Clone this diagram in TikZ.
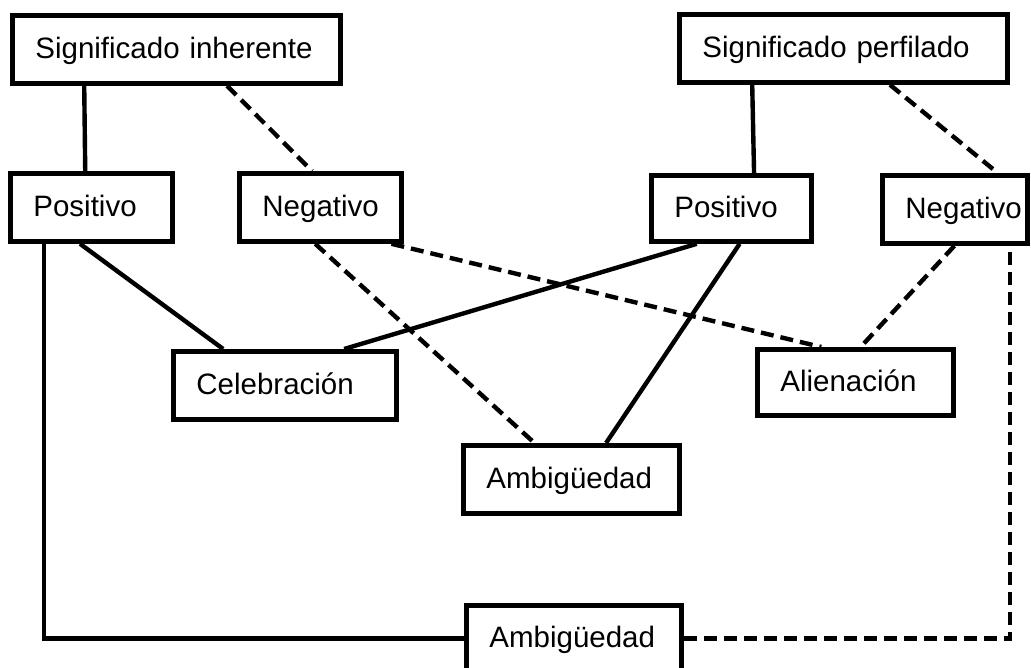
\documentclass[tikz,border=0pt]{standalone}
\usepackage{fontspec}
\setmainfont{Liberation Sans}
\usetikzlibrary{calc,shadows}
\hyphenpenalty=10000
\exhyphenpenalty=10000
\begin{document}
\begin{tikzpicture}[x=1pt,y=-1pt,
  box/.style={draw, line width=4.8pt, fill=white, anchor=north west,
    inner xsep=23pt, inner ysep=0pt, align=left,
    text height=24pt, text depth=6pt,
    drop shadow={shadow xshift=1.5pt, shadow yshift=-2.5pt, opacity=0.18},
    font=\fontsize{29.5}{35}\selectfont},
  conn/.style={line width=4.4pt},
  dashconn/.style={conn, dash pattern=on 13pt off 7pt}]
\useasboundingbox (0,0) rectangle (1031,667);
\clip (0,0) rectangle (1031,667);
% nodes
\node[box, minimum width=328pt, minimum height=68pt, text width=282pt] (SI) at (10,13) {Significado inherente};
\node[box, minimum width=328pt, minimum height=68pt, text width=282pt] (SP) at (677,12) {Significado perfilado};
\node[box, minimum width=162pt, minimum height=68pt, text width=116pt] (P1) at (8,171) {Positivo};
\node[box, minimum width=162pt, minimum height=68pt, text width=116pt] (N1) at (237,171) {Negativo};
\node[box, minimum width=160pt, minimum height=66pt, text width=114pt] (P2) at (649,173) {Positivo};
\node[box, minimum width=145pt, minimum height=68pt, text width=99pt] (N2) at (880,173) {Negativo};
\node[box, minimum width=223pt, minimum height=68pt, text width=177pt] (Cel) at (171,349) {Celebración};
\node[box, minimum width=196pt, minimum height=66pt, text width=150pt] (Ali) at (755,347) {Alienación};
\node[box, minimum width=216pt, minimum height=68pt, text width=170pt] (AmbM) at (461,443) {Ambigüedad};
\node[box, minimum width=215pt, minimum height=66pt, text width=169pt] (AmbB) at (464,603) {Ambigüedad};
% connectors
\draw[conn] ($(SI.south west)!0.223!(SI.south east)$) -- ($(P1.north west)!0.463!(P1.north east)$);
\draw[dashconn] ($(SI.south west)!0.652!(SI.south east)$) -- ($(N1.north west)!0.45!(N1.north east)$);
\draw[conn] ($(SP.south west)!0.226!(SP.south east)$) -- ($(P2.north west)!0.6375!(P2.north east)$);
\draw[dashconn] ($(SP.south west)!0.64!(SP.south east)$) -- ($(N2.north west)!0.786!(N2.north east)$);
\draw[conn] ($(P1.south west)!0.432!(P1.south east)$) -- ($(Cel.north west)!0.229!(Cel.north east)$);
\draw[dashconn] ($(N1.south west)!0.469!(N1.south east)$) -- ($(AmbM.north west)!0.333!(AmbM.north east)$);
\draw[dashconn] ($(N1.south west)!0.926!(N1.south east)$) -- ($(Ali.north west)!0.33!(Ali.north east)$);
\draw[conn] ($(P2.south west)!0.29!(P2.south east)$) -- ($(Cel.north west)!0.76!(Cel.north east)$);
\draw[conn] ($(P2.south west)!0.55!(P2.south east)$) -- ($(AmbM.north west)!0.657!(AmbM.north east)$);
\draw[dashconn] ($(N2.south west)!0.497!(N2.south east)$) -- ($(Ali.north west)!0.526!(Ali.north east)$);
\draw[conn] ($(P1.south west)!0.216!(P1.south east)$) |- (AmbB.west);
\draw[dashconn] (AmbB.east) -| ($(N2.south west)!0.869!(N2.south east)$);
\end{tikzpicture}
\end{document}
